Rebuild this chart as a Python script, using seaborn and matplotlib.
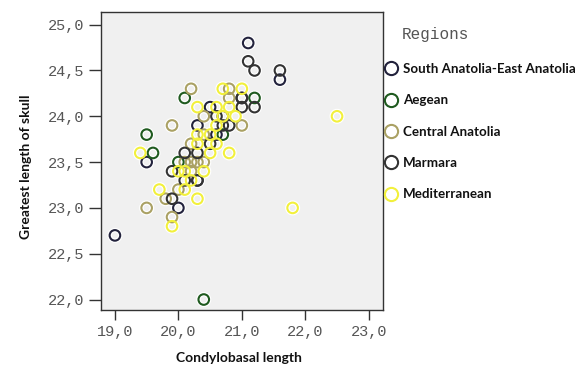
import numpy as np
import pandas as pd
import matplotlib
matplotlib.use("Agg")
import matplotlib.pyplot as plt
import matplotlib.patheffects as pe
from matplotlib.lines import Line2D
import seaborn as sns

# ── Dados (comprimento côndilo-basal x comprimento do crânio) ──
regions = ["South Anatolia-East Anatolia", "Aegean", "Central Anatolia",
           "Marmara", "Mediterranean"]
region_colors = ["#22223c", "#1f5a1f", "#aaa164", "#333333", "#f2f03c"]

sa_ea_x = [21.1, 21.6, 21.0, 20.5, 20.7, 20.3, 20.6, 19.5, 20.3, 20.0, 19.0]
sa_ea_y = [24.8, 24.4, 24.2, 24.1, 24.0, 23.9, 23.8, 23.5, 23.3, 23.0, 22.7]

aegean_x = [20.1, 21.2, 19.5, 20.7, 19.6, 20.0, 20.4]
aegean_y = [24.2, 24.2, 23.8, 23.8, 23.6, 23.5, 22.0]

central_x = [20.2, 20.8, 20.8, 20.4, 19.9, 21.0, 20.4, 20.2, 20.1, 20.2,
             20.3, 20.4, 20.2, 20.0, 19.8, 19.5, 19.9]
central_y = [24.3, 24.3, 24.2, 24.0, 23.9, 23.9, 23.8, 23.7, 23.5, 23.5,
             23.5, 23.5, 23.4, 23.2, 23.1, 23.0, 22.9]

marmara_x = [21.1, 21.2, 21.6, 21.0, 21.2, 21.0, 20.6, 20.7, 20.8, 20.5,
             20.1, 20.3, 20.3, 19.9, 20.1, 19.9]
marmara_y = [24.6, 24.5, 24.5, 24.1, 24.1, 24.2, 24.0, 23.9, 23.9, 23.7,
             23.6, 23.6, 23.3, 23.4, 23.3, 23.1]

medit_x = [20.7, 21.0, 20.3, 20.6, 20.8, 20.9, 22.5, 20.6, 20.3, 20.5,
           20.3, 20.6, 19.4, 20.5, 20.8, 20.0, 20.1, 20.4, 20.2, 19.7,
           20.1, 20.3, 21.8, 19.9, 20.7]
medit_y = [24.3, 24.3, 24.1, 24.1, 24.1, 24.0, 24.0, 23.9, 23.8, 23.8,
           23.7, 23.7, 23.6, 23.6, 23.6, 23.4, 23.4, 23.4, 23.3, 23.2,
           23.2, 23.1, 23.0, 22.8, 24.0]

x_ticks = [19.0, 20.0, 21.0, 22.0, 23.0]
y_ticks = [22.0, 22.5, 23.0, 23.5, 24.0, 24.5, 25.0]


def fmt_virgula(v):
    return f"{v:.1f}".replace(".", ",")


def main():
    frames = []
    for name, xs, ys in zip(regions,
                            [sa_ea_x, aegean_x, central_x, marmara_x, medit_x],
                            [sa_ea_y, aegean_y, central_y, marmara_y, medit_y]):
        frames.append(pd.DataFrame({"cbl": xs, "gls": ys, "Regions": name}))
    df = pd.concat(frames, ignore_index=True)

    sns.set_style("white")
    fig = plt.figure(figsize=(5.87, 3.70), dpi=100)
    ax = fig.add_axes([0.172, 0.162, 0.480, 0.806])
    ax.set_facecolor("#f0f0f0")

    palette = dict(zip(regions, region_colors))
    sns.scatterplot(data=df, x="cbl", y="gls", hue="Regions", palette=palette,
                    s=58, legend=False, ax=ax, linewidth=0)

    # círculos vazados com halo branco (estilo SPSS)
    for coll in ax.collections:
        fc = coll.get_facecolors()
        coll.set_edgecolors(fc)
        coll.set_facecolors("none")
        coll.set_linewidth(1.5)
        coll.set_path_effects([pe.Stroke(linewidth=3.2, foreground="white"),
                               pe.Normal()])

    ax.set_xlim(18.78, 23.22)
    ax.set_ylim(21.885, 25.14)
    ax.set_xticks(x_ticks)
    ax.set_yticks(y_ticks)
    ax.set_xticklabels([fmt_virgula(v) for v in x_ticks])
    ax.set_yticklabels([fmt_virgula(v) for v in y_ticks])
    ax.tick_params(axis="both", direction="out", width=1,
                   color="#333333", labelcolor="#555555", labelsize=11,
                   left=True, bottom=True)
    ax.tick_params(axis="y", length=9, pad=3)
    ax.tick_params(axis="x", length=7, pad=4)
    for lab in ax.get_xticklabels() + ax.get_yticklabels():
        lab.set_family("Liberation Mono")

    for sp in ax.spines.values():
        sp.set_color("#333333")
        sp.set_linewidth(1.0)

    ax.set_xlabel("Condylobasal length", family="Lato", fontweight="bold",
                  fontsize=10, color="#111111")
    ax.set_ylabel("Greatest length of skull", family="Lato", fontweight="bold",
                  fontsize=10, color="#111111")
    ax.xaxis.set_label_coords(0.49, -0.14)
    ax.yaxis.set_label_coords(-0.245, 0.48)

    # ── Legenda manual ──
    handles = [Line2D([], [], marker="o", linestyle="none", markersize=9.5,
                      markerfacecolor="none", markeredgecolor=c,
                      markeredgewidth=1.5) for c in region_colors]
    leg = fig.legend(handles, regions, loc="upper left",
                     bbox_to_anchor=(0.634, 0.862), frameon=False,
                     handletextpad=0.4, labelspacing=1.45, handlelength=1.0,
                     prop={"family": "Lato", "weight": "bold", "size": 9.6})
    for t in leg.get_texts():
        t.set_color("#111111")
    fig.text(0.684, 0.895, "Regions", family="Liberation Mono", fontsize=11.5,
             color="#555555")

    fig.savefig("out.png", dpi=100)
    plt.close(fig)


if __name__ == "__main__":
    main()
